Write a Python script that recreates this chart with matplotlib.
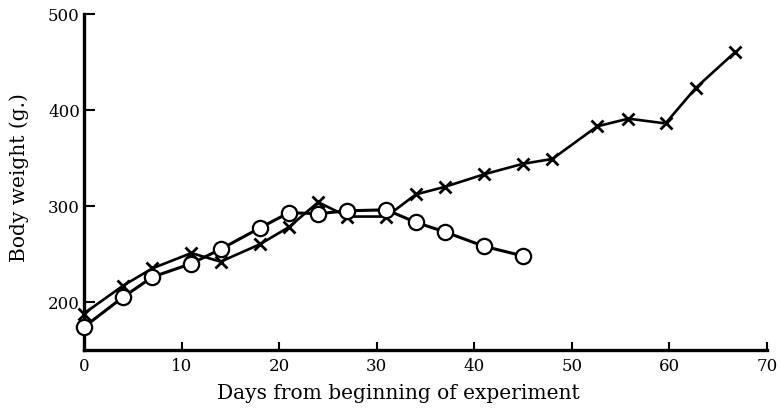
import matplotlib
matplotlib.use("Agg")
import matplotlib.pyplot as plt

# Cross series (continuing)
days_x = [0, 4, 7, 11, 14, 18, 21, 24, 27, 31, 34, 37, 41, 45, 48, 52.6, 55.8, 59.6, 62.7, 66.7]
weight_x = [188, 217, 235, 251, 242, 260, 278, 304, 289, 289, 312, 320, 333, 344, 349, 383, 391, 386, 423, 460]

# Circle series (declining)
days_o = [0, 4, 7, 11, 14, 18, 21, 24, 27, 31, 34, 37, 41, 45]
weight_o = [174, 205, 226, 240, 255, 277, 293, 292, 295, 296, 283, 273, 258, 248]

xticks = [0, 10, 20, 30, 40, 50, 60, 70]
yticks = [200, 300, 400, 500]

plt.rcParams['font.family'] = ['DejaVu Serif']

fig = plt.figure(figsize=(7.8, 4.14), dpi=100)
ax = fig.add_axes([84/780, 1 - 351/414, (767 - 84)/780, (351 - 15)/414])

ax.plot(days_x, weight_x, color='black', lw=1.9, marker='x', markersize=8,
        markeredgewidth=2.0, zorder=3, clip_on=False)
ax.plot(days_o, weight_o, color='black', lw=2.2, marker='o', markersize=11,
        markerfacecolor='white', markeredgecolor='black', markeredgewidth=1.6,
        zorder=4, clip_on=False)

ax.set_xlim(0, 70)
ax.set_ylim(150, 500)
ax.set_xticks(xticks)
ax.set_yticks(yticks)
ax.set_xticklabels([str(t) for t in xticks], fontsize=12)
ax.set_yticklabels([str(t) for t in yticks], fontsize=12)

for s in ['top', 'right']:
    ax.spines[s].set_visible(False)
for s in ['left', 'bottom']:
    ax.spines[s].set_linewidth(2.4)

ax.tick_params(axis='x', direction='in', length=6, width=1.5, pad=5)
ax.tick_params(axis='y', direction='in', length=8, width=1.5, pad=3)

ax.set_xlabel('Days from beginning of experiment', fontsize=14.5)
ax.set_ylabel('Body weight (g.)', fontsize=14.5)
ax.xaxis.set_label_coords(0.46, -0.098)
ax.yaxis.set_label_coords(-0.080, 0.515)

fig.savefig('out.png', dpi=100)
